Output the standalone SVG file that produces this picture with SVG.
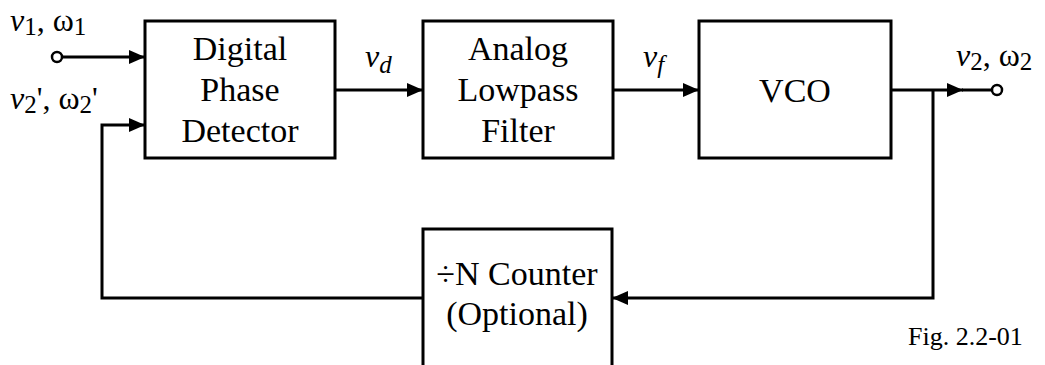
<svg xmlns="http://www.w3.org/2000/svg" width="1045" height="365" viewBox="0 0 1045 365">
<style>
.box{fill:#fff;stroke:#000;stroke-width:3}
.wire{fill:none;stroke:#000;stroke-width:3}
.term{fill:#fff;stroke:#000;stroke-width:2.5}
text{font-family:"Liberation Serif","Times New Roman",serif;fill:#000}
.lbl{font-size:34px;text-anchor:middle}
.sig{font-size:32px}
.it{font-style:italic}
.sub{font-size:25px}
.fig{font-size:26px}
</style>
<defs>
<marker id="ah" markerUnits="userSpaceOnUse" markerWidth="17" markerHeight="14" refX="16" refY="7" orient="auto">
<path d="M0,0 L16,7 L0,14 z" fill="#000"/>
</marker>
</defs>
<rect width="1045" height="365" fill="#fff"/>
<g id="connectors">
<line class="wire" x1="62" y1="57" x2="145" y2="57" marker-end="url(#ah)"/>
<polyline class="wire" points="423,298 102,298 102,125 145,125" marker-end="url(#ah)"/>
<line class="wire" x1="335" y1="90" x2="423" y2="90" marker-end="url(#ah)"/>
<line class="wire" x1="613" y1="90" x2="699" y2="90" marker-end="url(#ah)"/>
<line class="wire" x1="891" y1="90" x2="963" y2="90" marker-end="url(#ah)"/>
<line class="wire" x1="962" y1="90" x2="992" y2="90"/>
<polyline class="wire" points="933,90 933,298 612,298" marker-end="url(#ah)"/>
<circle class="term" cx="57" cy="57" r="5"/>
<circle class="term" cx="997" cy="90" r="5"/>
</g>
<g id="pd">
<rect class="box" x="145" y="21" width="190" height="137"/>
<text class="lbl" x="240" y="60">Digital</text>
<text class="lbl" x="240" y="101">Phase</text>
<text class="lbl" x="240" y="142">Detector</text>
</g>
<g id="lpf">
<rect class="box" x="423" y="21" width="190" height="137"/>
<text class="lbl" x="518" y="60">Analog</text>
<text class="lbl" x="518" y="101">Lowpass</text>
<text class="lbl" x="518" y="142">Filter</text>
</g>
<g id="vco">
<rect class="box" x="699" y="21" width="192" height="137"/>
<text class="lbl" x="795" y="102">VCO</text>
</g>
<g id="counter">
<rect class="box" x="423" y="229" width="189" height="160"/>
<text class="lbl" x="517" y="285">÷N Counter</text>
<text class="lbl" x="517" y="325">(Optional)</text>
</g>
<g id="labels">
<text class="sig" x="10" y="31"><tspan class="it">v</tspan><tspan class="sub" dy="4">1</tspan><tspan dy="-4">, ω</tspan><tspan class="sub" dy="4">1</tspan></text>
<text class="sig" x="10" y="109"><tspan class="it">v</tspan><tspan class="sub" dy="4">2</tspan><tspan dy="-4">', ω</tspan><tspan class="sub" dy="4">2</tspan><tspan dy="-4">'</tspan></text>
<text class="sig" x="956" y="66"><tspan class="it">v</tspan><tspan class="sub" dy="4">2</tspan><tspan dy="-4">, ω</tspan><tspan class="sub" dy="4">2</tspan></text>
<text class="sig" x="365" y="67"><tspan class="it">v</tspan><tspan class="sub it" dy="6">d</tspan></text>
<text class="sig" x="643" y="67"><tspan class="it">v</tspan><tspan class="sub it" dy="6">f</tspan></text>
<text class="fig" x="908" y="345">Fig. 2.2-01</text>
</g>
</svg>
